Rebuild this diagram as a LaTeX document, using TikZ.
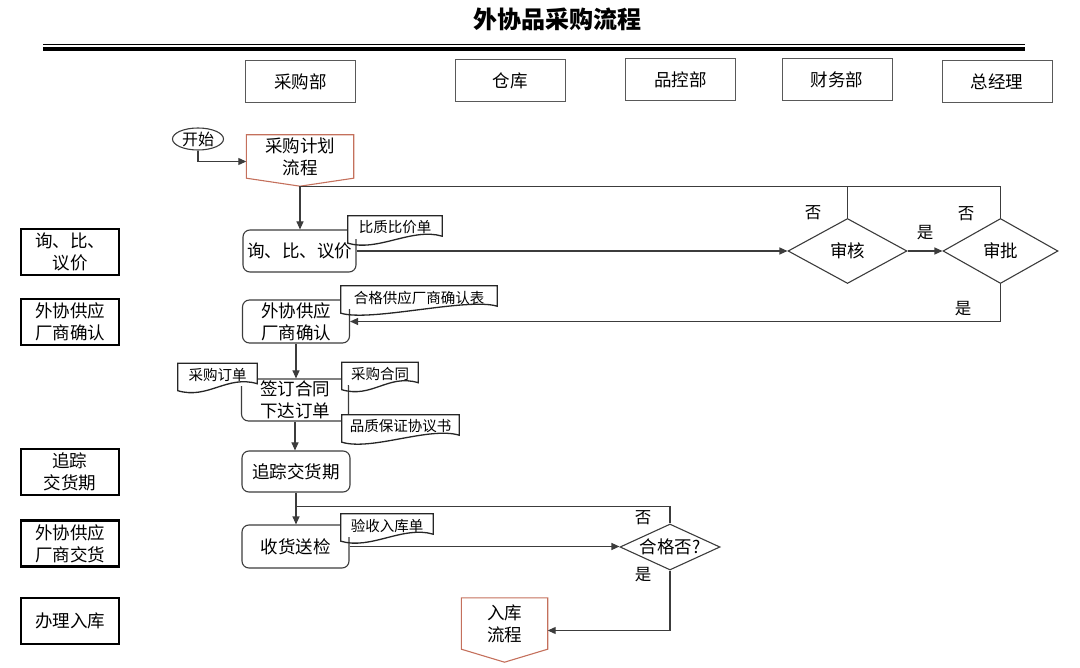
\documentclass[tikz,border=0pt]{standalone}
\usepackage{fontspec}
\setmainfont{Noto Sans CJK SC}
\usetikzlibrary{positioning,shapes.geometric,arrows.meta,calc}
\definecolor{pagered}{RGB}{196,112,92}
\definecolor{linegray}{RGB}{60,60,60}

\begin{document}
\begin{tikzpicture}[x=1pt,y=-1pt,
    every node/.style={inner sep=0pt,align=center,font=\fontsize{17.5}{22}\selectfont},
    hdr/.style={draw=black!65,line width=1pt,minimum width=110pt,minimum height=42pt},
    lane/.style={draw=black,line width=2.2pt,minimum width=98pt,minimum height=46pt},
    proc/.style={draw=linegray,line width=1.1pt,rounded corners=7pt,minimum width=107pt,minimum height=42pt},
    check/.style={draw=linegray,line width=1.1pt,diamond,aspect=2},
    page/.style={minimum width=86pt,minimum height=51pt},
    doc/.style={fill=white,minimum height=23pt,font=\fontsize{14.5}{17}\selectfont},
    docline/.style={draw=black!85,line width=1.3pt},
    yesno/.style={font=\fontsize{16.5}{20}\selectfont},
    conn/.style={draw=linegray,line width=1.1pt},
    arr/.style={conn,-{Triangle[length=8pt,width=7pt]}}
  ]
  \useasboundingbox (0,0) rectangle (1080,668);

  % title and the two rules under it
  \node[font=\fontsize{24}{28}\selectfont\bfseries] (title) at (557,19) {外协品采购流程};
  \draw[line width=1.2pt] (43,44.5) -- (1025,44.5);
  \draw[line width=4pt] (43,49.5) -- (1025,49.5);

  % the departments
  \foreach \n/\x/\y/\t in {cgb/300.5/82/采购部, ck/510/81/仓库, pkb/680.5/79.5/品控部,
                           cwb/837/79.5/财务部, zjl/997/82/总经理}
    \node[hdr] (\n) at (\x,\y) {\t};

  % the stages on the left
  \foreach \n/\y/\t in {l1/252/{询、比、\\议价}, l2/322/{外协供应\\厂商确认}, l3/472/{追踪\\交货期},
                        l4/543.5/{外协供应\\厂商交货}, l5/621/办理入库}
    \node[lane] (\n) at (70,\y) {\t};

  % start and the sub-process boxes
  \node[draw=linegray,line width=1.1pt,ellipse,minimum width=51pt,minimum height=22pt,
        font=\fontsize{16}{18}\selectfont] (start) at (198,139) {开始};
  \node[page,minimum width=107pt,minimum height=43pt] (jh) at (300,156.5) {采购计划\\流程};
  \coordinate (jhtip) at ($(jh.south)+(0,8)$);
  \draw[pagered,line width=1.1pt] (jh.north west) -- (jh.north east) -- (jh.south east)
    -- (jhtip) -- (jh.south west) -- cycle;

  \node[page] (rk) at (504.5,623.5) {入库\\流程};
  \coordinate (rktip) at ($(rk.south)+(0,13)$);
  \draw[pagered,line width=1.1pt] (rk.north west) -- (rk.north east) -- (rk.south east)
    -- (rktip) -- (rk.south west) -- cycle;

  % the main column
  \node[proc,minimum width=113pt] (xbj) at (299.5,251) {询、比、议价};
  \node[proc,minimum height=43pt] (wxqr) at (296,321.5) {外协供应\\厂商确认};
  \node[proc] (qdht) at (295,400) {签订合同\\下达订单};
  \node[proc,minimum width=108pt,minimum height=41pt] (zzjh) at (296,471.5) {追踪交货期};
  \node[proc,minimum height=43pt] (shsj) at (295.5,546.5) {收货送检};

  % the decisions
  \node[check,minimum width=119pt,minimum height=65pt] (sh) at (847.5,251) {审核};
  \node[check,minimum width=115pt,minimum height=65pt] (sp) at (1000.5,251) {审批};
  \node[check,minimum width=100pt,minimum height=46pt,aspect=2.2] (hgf) at (670,547) {合格否?};

  % the connectors
  \draw[arr] (start.south) |- ($(jh.west)+(0,5)$);
  \draw[arr] (jhtip) -- (jhtip |- xbj.north);
  \draw[conn] (sp.north) |- (jhtip);
  \draw[conn] (sh.north) -- (sh.north |- jhtip);
  \draw[arr] (xbj.east) -- (sh.west);
  \draw[arr] (sh.east) -- (sp.west);
  \draw[arr] (sp.south) |- (wxqr.east);
  \draw[arr] (wxqr.south) -- (wxqr.south |- qdht.north);
  \draw[arr] (qdht.south) -- (qdht.south |- zzjh.north);
  \draw[arr] (zzjh.south) -- (zzjh.south |- shsj.north);
  \coordinate (jc) at ($(zzjh.south)!0.45!(shsj.north)$);
  \draw[conn] (jc) -| (hgf.north);
  \draw[arr] (shsj.east) -- (shsj.east -| hgf.west);
  \draw[arr] (hgf.south) |- ($(rk.east)+(0,7)$);

  % the documents
  \node[doc,minimum width=94pt] (bzd) at (395,227.5) {比质比价单};
  \node[doc,minimum width=156pt] (hgb) at (419,297.5) {合格供应厂商确认表};
  \node[doc,minimum width=79pt] (cgdd) at (217.5,375) {采购订单};
  \node[doc,minimum width=76pt] (cght) at (380,374) {采购合同};
  \node[doc,minimum width=117pt] (pzxy) at (400.5,426.5) {品质保证协议书};
  \node[doc,minimum width=92pt] (ysd) at (387,525.5) {验收入库单};
  \foreach \d in {bzd,hgb,cgdd,cght,pzxy,ysd}
    \draw[docline] (\d.north west) -- (\d.north east) -- ($(\d.south east)+(0,-3)$)
      .. controls +(-30,-9) and +(30,9) .. ($(\d.south west)+(0,4)$) -- cycle;

  % yes / no labels
  \node[yesno] (f1) at (813,213) {否};
  \node[yesno] (f2) at (966,214) {否};
  \node[yesno] (s1) at (925,233) {是};
  \node[yesno] (s2) at (963,309) {是};
  \node[yesno] (f3) at (643,518) {否};
  \node[yesno] (s3) at (643,575) {是};
\end{tikzpicture}
\end{document}
